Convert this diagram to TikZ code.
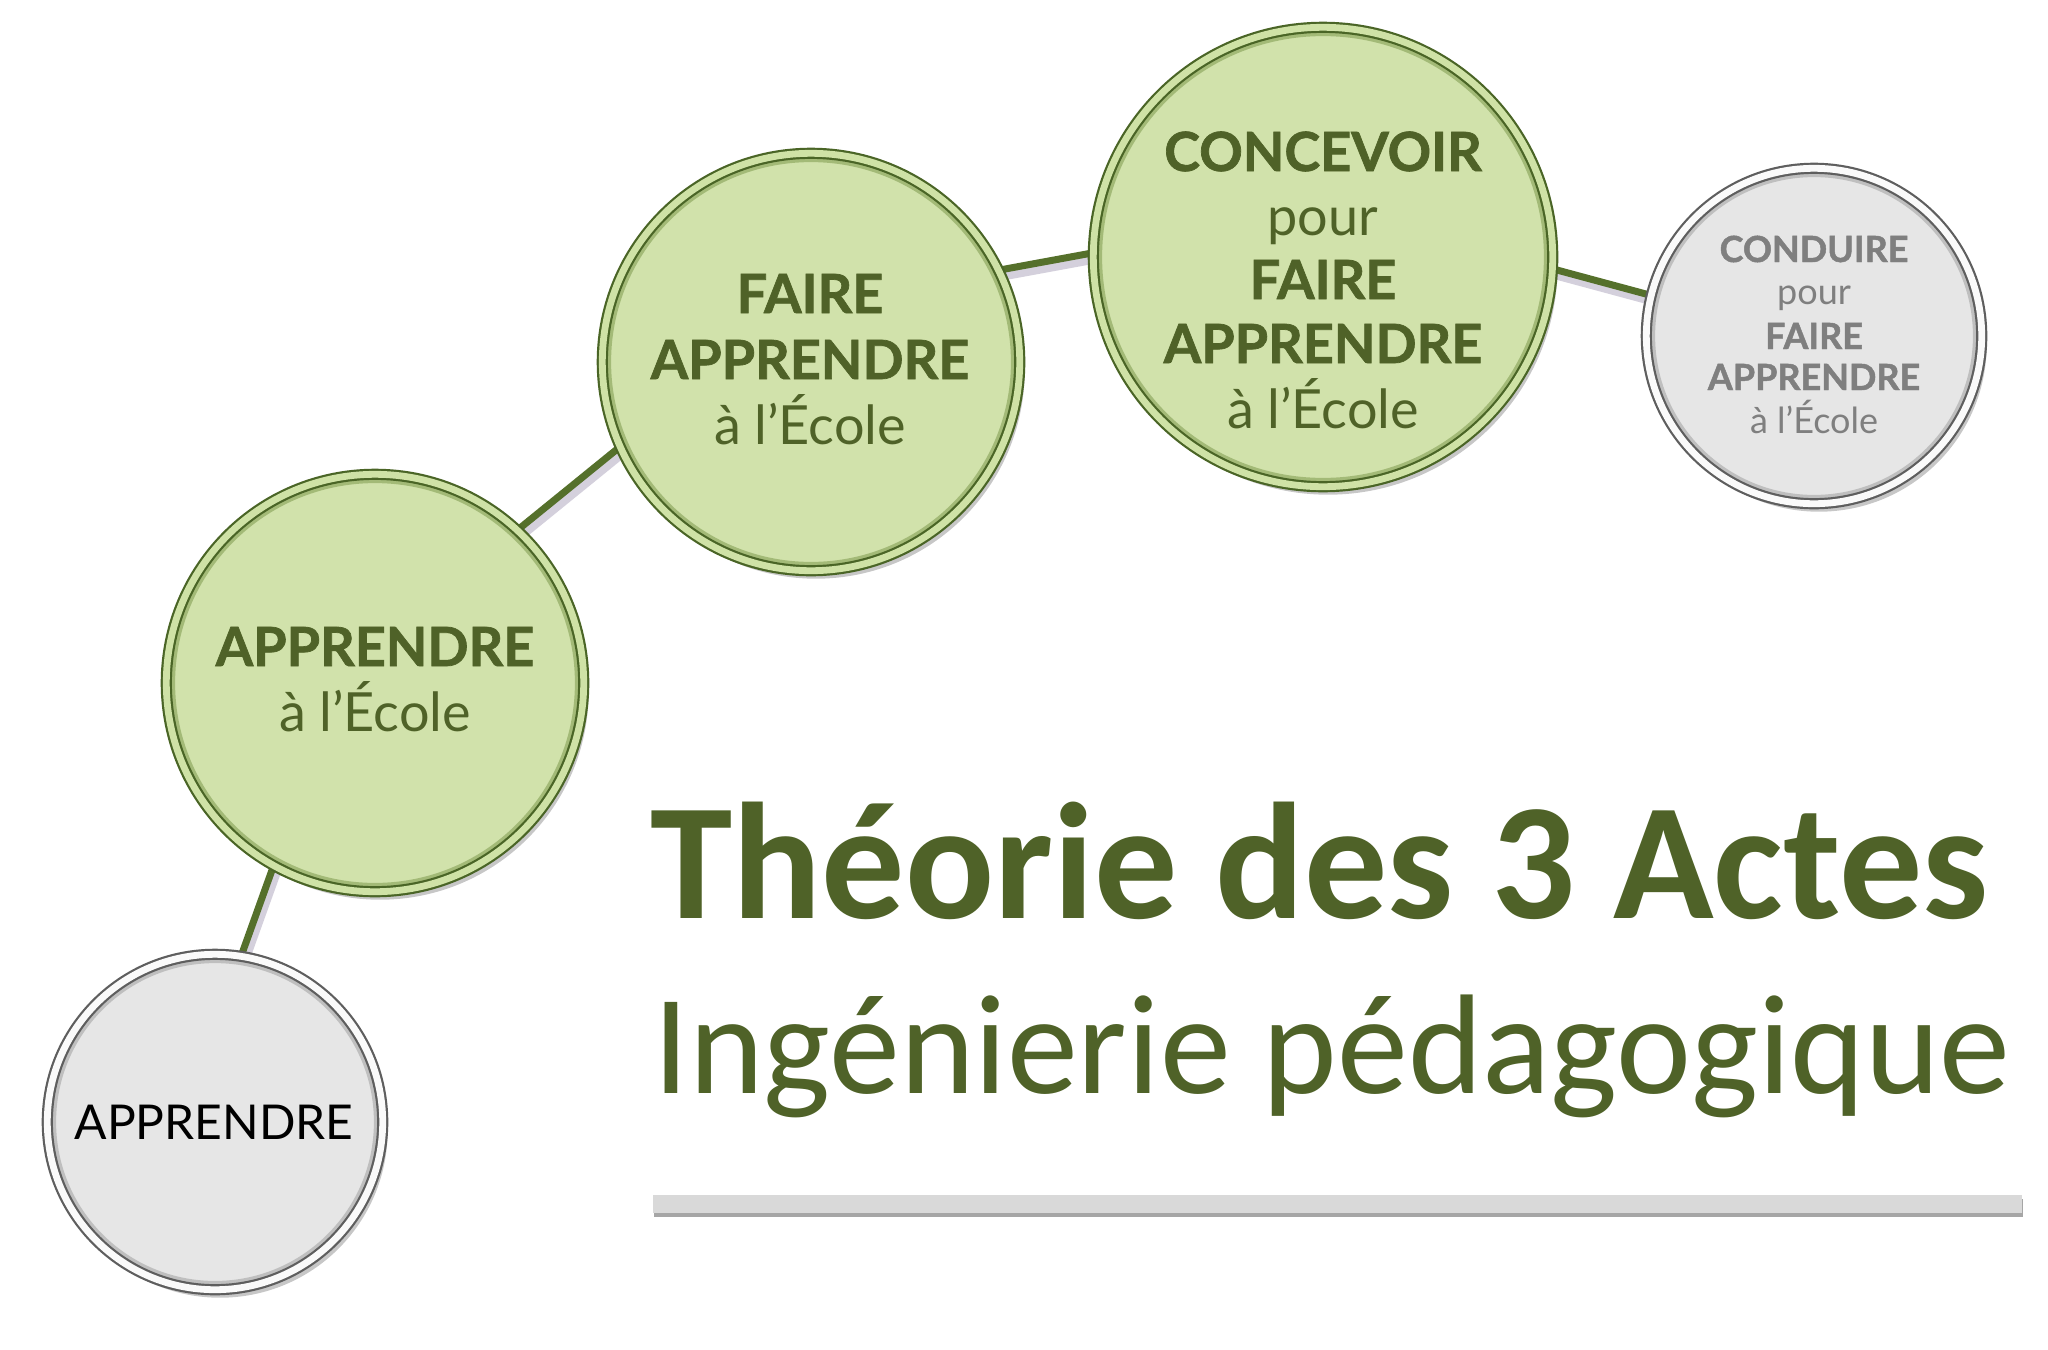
\documentclass[tikz,border=0pt]{standalone}
\usepackage{fontspec}
\newfontfamily\circfont{Lato}[BoldFeatures={FakeBold=1.3}]
\newfontfamily\titlefont{Carlito}
\usetikzlibrary{shadows,backgrounds}
\definecolor{tgreen}{HTML}{4F6228}
\definecolor{cfill}{HTML}{D1E2AB}
\definecolor{cring}{HTML}{CFE2A6}
\definecolor{cedge}{HTML}{4A6526}
\definecolor{cinner}{HTML}{7E9A4E}
\definecolor{gfill}{HTML}{E6E6E6}
\definecolor{gring}{HTML}{FAFAFA}
\definecolor{gedge}{HTML}{5E5E5E}
\definecolor{ginner}{HTML}{9A9A9A}
\definecolor{gtext}{HTML}{7F7F7F}
\definecolor{conn}{HTML}{55702B}
\definecolor{connsh}{HTML}{D4D0DC}
\definecolor{barfill}{HTML}{D9D9D9}
\begin{document}
\begin{tikzpicture}[x=0.5pt,y=-0.5pt,
  greenc/.style={circle, inner sep=0pt, minimum size=#1, fill=cfill, draw=cedge, line width=1.1pt,
    double=cring, double distance=3.4pt,
    path picture={\draw[cinner, line width=2.4pt, opacity=0.55]
      (path picture bounding box.center) circle[radius=#1/2-3.2pt];},
    drop shadow={shadow xshift=2.5pt, shadow yshift=-4pt, opacity=0.22, fill=black}},
  greyc/.style={circle, inner sep=0pt, minimum size=#1, fill=gfill, draw=gedge, line width=1.1pt,
    double=gring, double distance=3.4pt,
    path picture={\draw[ginner, line width=2.4pt, opacity=0.5]
      (path picture bounding box.center) circle[radius=#1/2-3.2pt];},
    drop shadow={shadow xshift=2.5pt, shadow yshift=-4pt, opacity=0.22, fill=black}},
  tbig/.style={anchor=base, inner sep=0pt, text=tgreen,
    font=\circfont\bfseries\fontsize{27pt}{30pt}\selectfont},
  treg/.style={anchor=base, inner sep=0pt, text=tgreen,
    font=\circfont\fontsize{27pt}{30pt}\selectfont},
  sbig/.style={anchor=base, inner sep=0pt, text=gtext,
    font=\circfont\bfseries\fontsize{18pt}{20pt}\selectfont},
  sreg/.style={anchor=base, inner sep=0pt, text=gtext,
    font=\circfont\fontsize{18pt}{20pt}\selectfont},
  connline/.style={draw=conn, line width=3.5pt},
  connshadow/.style={draw=connsh, line width=4.5pt},
  barstyle/.style={rectangle, inner sep=0pt, fill=barfill, minimum width=684.5pt,
    minimum height=9pt,
    drop shadow={shadow xshift=0.5pt, shadow yshift=-2pt, opacity=0.35, fill=black}}
]
\useasboundingbox (0,0) rectangle (2048,1349);

% circles
\node[greyc=167.7pt]  (n1) at (215,1122) {};
\node[greenc=208.7pt] (n2) at (375,683) {};
\node[greenc=208.7pt] (n3) at (811,362) {};
\node[greenc=229.7pt] (n4) at (1323,257) {};
\node[greyc=167.7pt]  (n5) at (1814,336) {};

% texts
\node[anchor=base, inner sep=0pt, text=black,
  font=\circfont\fontsize{24pt}{26pt}\selectfont] (t1a) at (214,1139) {APPRENDRE};

\node[tbig] (t2a) at (375,666) {APPRENDRE};
\node[treg] (t2b) at (375,731) {à l’École};

\node[tbig] (t3a) at (810,313) {FAIRE};
\node[tbig] (t3b) at (810,379) {APPRENDRE};
\node[treg] (t3c) at (810,444) {à l’École};

\node[tbig] (t4a) at (1323,171) {CONCEVOIR};
\node[treg] (t4b) at (1323,235) {pour};
\node[tbig] (t4c) at (1323,299) {FAIRE};
\node[tbig] (t4d) at (1323,363) {APPRENDRE};
\node[treg] (t4e) at (1323,428) {à l’École};

\node[sbig] (t5a) at (1814,262) {CONDUIRE};
\node[sreg] (t5b) at (1814,304) {pour};
\node[sbig] (t5c) at (1814,349) {FAIRE};
\node[sbig] (t5d) at (1814,390) {APPRENDRE};
\node[sreg] (t5e) at (1814,433) {à l’École};

% title
\node[anchor=base west, inner sep=0pt, text=tgreen,
  font=\titlefont\bfseries\fontsize{83pt}{90pt}\selectfont] (title) at (650,918) {Théorie des 3 Actes};
\node[anchor=base west, inner sep=0pt, text=tgreen,
  font=\titlefont\fontsize{71pt}{80pt}\selectfont] (subtitle) at (653,1093) {Ingénierie pédagogique};

% bar
\node[barstyle] (bar) at (1337.5,1204) {};

% connectors behind circles
\begin{pgfonlayer}{background}
\fill[white] (0,0) rectangle (2048,1349);
\draw[connshadow] ([shift={(3,6)}]n1.81) -- ([shift={(3,6)}]n2.241);
\draw[connshadow] ([shift={(3,6)}]n2.47) -- ([shift={(3,6)}]n3.204);
\draw[connshadow] ([shift={(3,6)}]n3.26) -- ([shift={(3,6)}]n4.179);
\draw[connshadow] ([shift={(3,6)}]n4.357) -- ([shift={(3,6)}]n5.166);
\draw[connline] (n1.81) -- (n2.241);
\draw[connline] (n2.47) -- (n3.204);
\draw[connline] (n3.26) -- (n4.179);
\draw[connline] (n4.357) -- (n5.166);
\end{pgfonlayer}
\end{tikzpicture}
\end{document}
